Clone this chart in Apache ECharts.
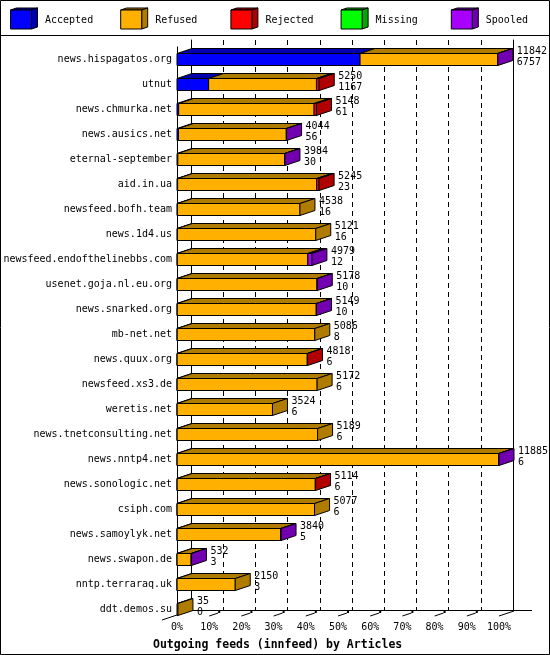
<!DOCTYPE html>
<html><head><meta charset="utf-8">
<script src="https://cdn.jsdelivr.net/npm/echarts@6/dist/echarts.min.js"></script>
<style>html,body{margin:0;padding:0;background:#fff}#c{width:550px;height:655px}</style>
</head><body><div id="c"></div>
<script>
const hosts = ['news.hispagatos.org','utnut','news.chmurka.net','news.ausics.net','eternal-september','aid.in.ua','newsfeed.bofh.team','news.1d4.us','newsfeed.endofthelinebbs.com','usenet.goja.nl.eu.org','news.snarked.org','mb-net.net','news.quux.org','newsfeed.xs3.de','weretis.net','news.tnetconsulting.net','news.nntp4.net','news.sonologic.net','csiph.com','news.samoylyk.net','news.swapon.de','nntp.terraraq.uk','ddt.demos.su'];
const offered  = [11842,5250,5148,4044,3984,5245,4538,5121,4979,5178,5149,5086,4818,5172,3524,5189,11885,5114,5077,3840,532,2150,35];
const accepted = [6757,1167,61,56,30,23,16,16,12,10,10,8,6,6,6,6,6,6,6,5,3,3,0];
const refused  = [5075,3980,5000,3978,3944,5130,4522,5105,4817,5158,5129,5078,4802,5166,3518,5183,11869,5098,5071,3825,519,2147,35];
const rejected = [0,103,87,0,0,92,0,0,0,0,0,0,10,0,0,0,0,10,0,0,0,0,0];
const missing  = [0,0,0,0,0,0,0,0,0,0,0,0,0,0,0,0,0,0,0,0,0,0,0];
const spooled  = [10,0,0,10,10,0,0,0,150,10,10,0,0,0,0,0,10,0,0,10,10,0,0];
const seriesNames = ['Accepted','Refused','Rejected','Missing','Spooled'];
const frontColors = ['#0000ff','#ffb000','#ff0000','#00ff00','#a800ff'];
const sideColors  = ['#0000b0','#b07c00','#b00000','#00a800','#7200b0'];
const xTitle = 'Outgoing feeds (innfeed) by Articles';

const FONT = 'DejaVu Sans Mono';
const DX = 15, DY = 5, HALF = 6;
const totals = hosts.map((h,i)=>accepted[i]+refused[i]+rejected[i]+missing[i]+spooled[i]);
const maxTotal = Math.max(...totals);
const data = hosts.map((h,i)=>[i, accepted[i], refused[i], rejected[i], missing[i], spooled[i], offered[i], totals[i]/maxTotal*100]);

function renderItem(params, api){
  const idx = api.value(0);
  const vals = [api.value(1),api.value(2),api.value(3),api.value(4),api.value(5)];
  const base = api.coord([0, idx]);
  const yc = base[1];
  const yt = yc - HALF, yb = yc + HALF;
  const children = [];
  let cum = 0, last = 1, xe = base[0];
  for (let i=0;i<5;i++){
    const v = vals[i];
    if (!(v>0)) continue;
    const xa = api.coord([cum/maxTotal*100, idx])[0];
    cum += v;
    const xb = api.coord([cum/maxTotal*100, idx])[0];
    children.push({type:'polygon', shape:{points:[[xa,yt],[xb,yt],[xb+DX,yt-DY],[xa+DX,yt-DY]]},
      style:{fill:sideColors[i], stroke:'#000', lineWidth:1}});
    children.push({type:'rect', shape:{x:xa,y:yt,width:xb-xa,height:yb-yt},
      style:{fill:frontColors[i], stroke:'#000', lineWidth:1}});
    last = i; xe = xb;
  }
  children.push({type:'polygon', shape:{points:[[xe,yt],[xe+DX,yt-DY],[xe+DX,yb-DY],[xe,yb]]},
    style:{fill:sideColors[last], stroke:'#000', lineWidth:1}});
  children.push({type:'text', style:{x:xe+DX+4, y:yc-8.5, text:String(api.value(6)), fill:'#000',
    font:'10px '+FONT, verticalAlign:'middle', align:'left'}});
  children.push({type:'text', style:{x:xe+DX+4, y:yc+2.5, text:String(api.value(1)), fill:'#000',
    font:'10px '+FONT, verticalAlign:'middle', align:'left'}});
  return {type:'group', children};
}

const chart = echarts.init(document.getElementById('c'), null, {renderer:'canvas'});
const option = {
  animation:false,
  backgroundColor:'#fff',
  title:{text:xTitle, left:148, top:634, textStyle:{fontFamily:FONT, fontSize:11.5, fontWeight:'bold', color:'#000'}},
  grid:[
    {left:177, width:322, top:47, height:575},
    {left:191, width:322, top:40, height:570}
  ],
  xAxis:[
    {gridIndex:0, type:'value', min:0, max:100, interval:10,
     axisLine:{show:false}, axisTick:{show:false}, splitLine:{show:false},
     axisLabel:{formatter:'{value}%', margin:0, color:'#000', fontFamily:FONT, fontSize:10}},
    {gridIndex:1, type:'value', min:0, max:100, interval:10,
     axisLine:{show:true, lineStyle:{color:'#000', width:1}}, axisTick:{show:false}, axisLabel:{show:false},
     splitLine:{show:true, lineStyle:{color:'#000', width:1, type:[5,4]}}}
  ],
  yAxis:[
    {gridIndex:0, type:'category', inverse:true, data:hosts,
     axisLine:{show:false}, axisTick:{show:false},
     axisLabel:{margin:5, color:'#000', fontFamily:FONT, fontSize:10}},
    {gridIndex:1, type:'category', inverse:true, data:hosts, position:'left',
     axisLine:{show:true, lineStyle:{color:'#000', width:1}}, axisTick:{show:false}, axisLabel:{show:false}},
    {gridIndex:1, type:'category', inverse:true, data:hosts, position:'right',
     axisLine:{show:true, lineStyle:{color:'#000', width:1}}, axisTick:{show:false}, axisLabel:{show:false}}
  ],
  series:[{type:'custom', xAxisIndex:0, yAxisIndex:0, renderItem, data, clip:false, z:5,
    encode:{x:7, y:0}}]
};
chart.setOption(option);

// decorations
const g = [];
g.push({type:'rect', shape:{x:0.5,y:0.5,width:549,height:654}, style:{fill:null, stroke:'#000', lineWidth:1}, z:100});
g.push({type:'line', shape:{x1:0,y1:35.5,x2:550,y2:35.5}, style:{stroke:'#000', lineWidth:1}, z:100});
const top0 = chart.convertToPixel({yAxisIndex:0}, hosts[0]) - 13;
const x0 = chart.convertToPixel({xAxisIndex:0}, 0);
g.push({type:'line', shape:{x1:x0+0.5,y1:top0,x2:x0+0.5,y2:615}, style:{stroke:'#000', lineWidth:1}, z:1});
g.push({type:'line', shape:{x1:x0-15,y1:620,x2:x0+15,y2:610}, style:{stroke:'#000', lineWidth:1}, z:1});
g.push({type:'line', shape:{x1:513,y1:610.5,x2:532,y2:610.5}, style:{stroke:'#000', lineWidth:1}, z:1});
for (let v=10; v<=100; v+=10){
  const x = chart.convertToPixel({xAxisIndex:0}, v);
  g.push({type:'line', shape:{x1:x,y1:616,x2:x+(v===100?15:9),y2:v===100?611:613}, style:{stroke:'#000', lineWidth:1}, z:1});
  if (v<100) g.push({type:'rect', shape:{x:x+9,y:611,width:2,height:2}, style:{fill:'#000'}, z:1});
}
// legend
seriesNames.forEach((name,i)=>{
  const x = 10.5 + i*110.2;
  g.push({type:'polygon', shape:{points:[[x,10],[x+21,10],[x+27,8],[x+6,8]]}, style:{fill:sideColors[i], stroke:'#000', lineWidth:1}, z:100});
  g.push({type:'polygon', shape:{points:[[x+21,10],[x+27,8],[x+27,27],[x+21,29]]}, style:{fill:sideColors[i], stroke:'#000', lineWidth:1}, z:100});
  g.push({type:'rect', shape:{x:x,y:10,width:21,height:19}, style:{fill:frontColors[i], stroke:'#000', lineWidth:1}, z:100});
  g.push({type:'text', style:{x:x+34.5, y:20, text:name, fill:'#000', font:'10px '+FONT, verticalAlign:'middle'}, z:100});
});
chart.setOption({graphic:g});
</script></body></html>
